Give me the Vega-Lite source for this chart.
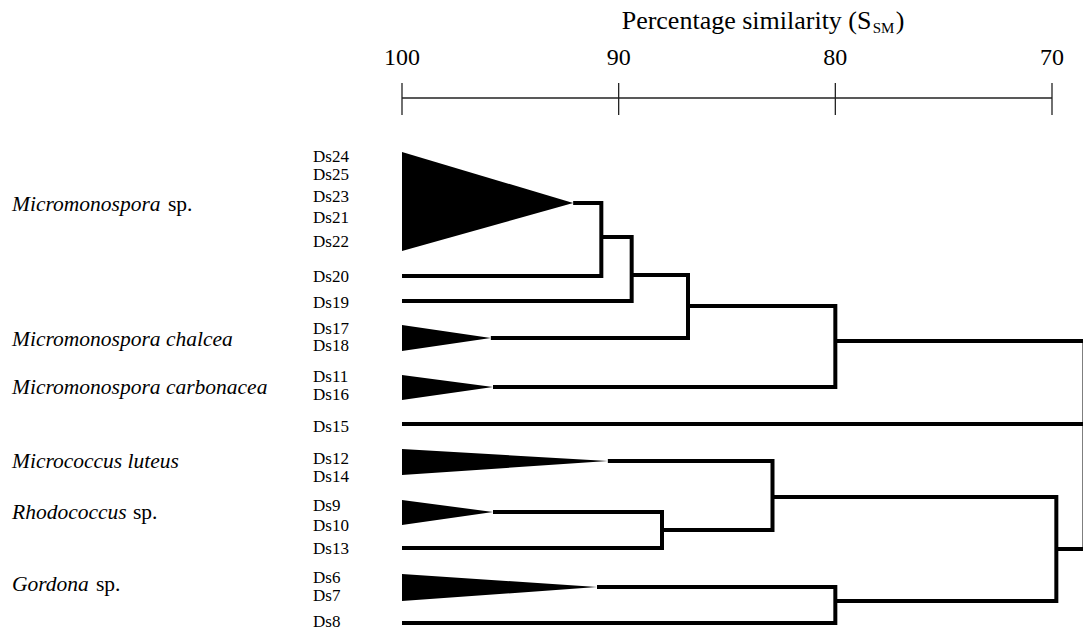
{
  "$schema": "https://vega.github.io/schema/vega-lite/v6.json",
  "padding": 0,
  "background": "white",
  "spacing": 0,
  "bounds": "flush",
  "config": {"view": {"stroke": null}, "font": "Liberation Serif", "concat": {"spacing": 0}},
  "datasets": {
    "edges": [
      {"path": "n1", "step": 1, "sim": 92.1, "pos": 4.2}, {"path": "n1", "step": 2, "sim": 90.8, "pos": 4.2}, {"path": "n1", "step": 3, "sim": 90.8, "pos": 7.12}, {"path": "n1", "step": 4, "sim": 100, "pos": 7.12},
      {"path": "n2", "step": 1, "sim": 90.8, "pos": 5.56}, {"path": "n2", "step": 2, "sim": 89.4, "pos": 5.56}, {"path": "n2", "step": 3, "sim": 89.4, "pos": 8.12}, {"path": "n2", "step": 4, "sim": 100, "pos": 8.12},
      {"path": "n3", "step": 1, "sim": 89.4, "pos": 7.08}, {"path": "n3", "step": 2, "sim": 86.8, "pos": 7.08}, {"path": "n3", "step": 3, "sim": 86.8, "pos": 9.6}, {"path": "n3", "step": 4, "sim": 95.9, "pos": 9.6},
      {"path": "n4", "step": 1, "sim": 86.8, "pos": 8.32}, {"path": "n4", "step": 2, "sim": 80, "pos": 8.32}, {"path": "n4", "step": 3, "sim": 80, "pos": 11.56}, {"path": "n4", "step": 4, "sim": 95.8, "pos": 11.56},
      {"path": "root", "step": 1, "sim": 80, "pos": 9.72}, {"path": "root", "step": 2, "sim": 68.5, "pos": 9.72}, {"path": "root", "step": 3, "sim": 68.5, "pos": 18.04}, {"path": "root", "step": 4, "sim": 69.8, "pos": 18.04},
      {"path": "ds15", "step": 1, "sim": 100, "pos": 13.04}, {"path": "ds15", "step": 2, "sim": 68.5, "pos": 13.04},
      {"path": "n5", "step": 1, "sim": 95.8, "pos": 16.56}, {"path": "n5", "step": 2, "sim": 88, "pos": 16.56}, {"path": "n5", "step": 3, "sim": 88, "pos": 18.0}, {"path": "n5", "step": 4, "sim": 100, "pos": 18.0},
      {"path": "n6", "step": 1, "sim": 90.5, "pos": 14.52}, {"path": "n6", "step": 2, "sim": 82.9, "pos": 14.52}, {"path": "n6", "step": 3, "sim": 82.9, "pos": 17.28}, {"path": "n6", "step": 4, "sim": 88, "pos": 17.28},
      {"path": "n7", "step": 1, "sim": 91, "pos": 19.56}, {"path": "n7", "step": 2, "sim": 80, "pos": 19.56}, {"path": "n7", "step": 3, "sim": 80, "pos": 21.0}, {"path": "n7", "step": 4, "sim": 100, "pos": 21.0},
      {"path": "n8", "step": 1, "sim": 82.9, "pos": 15.96}, {"path": "n8", "step": 2, "sim": 69.8, "pos": 15.96}, {"path": "n8", "step": 3, "sim": 69.8, "pos": 20.12}, {"path": "n8", "step": 4, "sim": 80, "pos": 20.12}
    ],
    "triangles": [
      {"cluster": "Ds21-25", "sim": 100, "top": 2.16, "bottom": 6.12}, {"cluster": "Ds21-25", "sim": 92.1, "top": 4.2, "bottom": 4.2},
      {"cluster": "Ds17-18", "sim": 100, "top": 9.08, "bottom": 10.12}, {"cluster": "Ds17-18", "sim": 95.9, "top": 9.6, "bottom": 9.6},
      {"cluster": "Ds11-16", "sim": 100, "top": 11.08, "bottom": 12.08}, {"cluster": "Ds11-16", "sim": 95.8, "top": 11.56, "bottom": 11.56},
      {"cluster": "Ds12-14", "sim": 100, "top": 14.04, "bottom": 15.08}, {"cluster": "Ds12-14", "sim": 90.5, "top": 14.52, "bottom": 14.52},
      {"cluster": "Ds9-10", "sim": 100, "top": 16.08, "bottom": 17.08}, {"cluster": "Ds9-10", "sim": 95.8, "top": 16.56, "bottom": 16.56},
      {"cluster": "Ds6-7", "sim": 100, "top": 19.04, "bottom": 20.12}, {"cluster": "Ds6-7", "sim": 91, "top": 19.56, "bottom": 19.56}
    ],
    "ticks": [{"value": 100}, {"value": 90}, {"value": 80}, {"value": 70}],
    "strains": [
      {"label": "Ds24", "pos": 2.36}, {"label": "Ds25", "pos": 3.06}, {"label": "Ds23", "pos": 3.96}, {"label": "Ds21", "pos": 4.8}, {"label": "Ds22", "pos": 5.76},
      {"label": "Ds20", "pos": 7.16}, {"label": "Ds19", "pos": 8.2}, {"label": "Ds17", "pos": 9.22}, {"label": "Ds18", "pos": 9.92},
      {"label": "Ds11", "pos": 11.16}, {"label": "Ds16", "pos": 11.86}, {"label": "Ds15", "pos": 13.16}, {"label": "Ds12", "pos": 14.44},
      {"label": "Ds14", "pos": 15.16}, {"label": "Ds9", "pos": 16.32}, {"label": "Ds10", "pos": 17.12}, {"label": "Ds13", "pos": 18.04},
      {"label": "Ds6", "pos": 19.2}, {"label": "Ds7", "pos": 19.9}, {"label": "Ds8", "pos": 20.96}
    ],
    "taxa": [
      {"taxon": "Micromonospora", "suffix": "sp.", "pos": 4.28},
      {"taxon": "Micromonospora chalcea", "suffix": "", "pos": 9.68},
      {"taxon": "Micromonospora carbonacea", "suffix": "", "pos": 11.6},
      {"taxon": "Micrococcus luteus", "suffix": "", "pos": 14.56},
      {"taxon": "Rhodococcus", "suffix": "sp.", "pos": 16.6},
      {"taxon": "Gordona", "suffix": "sp.", "pos": 19.48}
    ],
    "title": [{"main": "Percentage similarity (S", "sub": "SM", "close": ")"}]
  },
  "hconcat": [
    {
      "width": 402,
      "height": 633,
      "layer": [
        {
          "data": {"name": "taxa"},
          "mark": {"type": "text", "align": "left", "baseline": "middle", "fontStyle": "italic", "fontSize": 21.5, "font": "Liberation Serif", "color": "black"},
          "encoding": {
            "x": {"datum": "taxon", "type": "nominal", "scale": {"type": "point", "domain": ["taxon", "strain"], "range": [12, 313], "padding": 0}, "axis": null},
            "y": {"field": "pos", "type": "quantitative", "scale": {"domain": [-3.92, 21.4], "reverse": true, "nice": false, "zero": false}, "axis": null},
            "text": {"field": "taxon"}
          }
        },
        {
          "data": {"name": "taxa"},
          "transform": [{"filter": "datum.taxon == 'Micromonospora' && datum.suffix != ''"}],
          "mark": {"type": "text", "align": "left", "baseline": "middle", "fontSize": 21.5, "font": "Liberation Serif", "color": "black", "dx": 156},
          "encoding": {
            "x": {"datum": "taxon", "type": "nominal", "scale": {"type": "point", "domain": ["taxon", "strain"], "range": [12, 313], "padding": 0}, "axis": null},
            "y": {"field": "pos", "type": "quantitative", "scale": {"domain": [-3.92, 21.4], "reverse": true, "nice": false, "zero": false}, "axis": null},
            "text": {"field": "suffix"}
          }
        },
        {
          "data": {"name": "taxa"},
          "transform": [{"filter": "datum.taxon == 'Rhodococcus'"}],
          "mark": {"type": "text", "align": "left", "baseline": "middle", "fontSize": 21.5, "font": "Liberation Serif", "color": "black", "dx": 121},
          "encoding": {
            "x": {"datum": "taxon", "type": "nominal", "scale": {"type": "point", "domain": ["taxon", "strain"], "range": [12, 313], "padding": 0}, "axis": null},
            "y": {"field": "pos", "type": "quantitative", "scale": {"domain": [-3.92, 21.4], "reverse": true, "nice": false, "zero": false}, "axis": null},
            "text": {"field": "suffix"}
          }
        },
        {
          "data": {"name": "taxa"},
          "transform": [{"filter": "datum.taxon == 'Gordona'"}],
          "mark": {"type": "text", "align": "left", "baseline": "middle", "fontSize": 21.5, "font": "Liberation Serif", "color": "black", "dx": 84},
          "encoding": {
            "x": {"datum": "taxon", "type": "nominal", "scale": {"type": "point", "domain": ["taxon", "strain"], "range": [12, 313], "padding": 0}, "axis": null},
            "y": {"field": "pos", "type": "quantitative", "scale": {"domain": [-3.92, 21.4], "reverse": true, "nice": false, "zero": false}, "axis": null},
            "text": {"field": "suffix"}
          }
        },
        {
          "data": {"name": "strains"},
          "mark": {"type": "text", "align": "left", "baseline": "middle", "fontSize": 17, "font": "Liberation Serif", "color": "black"},
          "encoding": {
            "x": {"datum": "strain", "type": "nominal", "scale": {"type": "point", "domain": ["taxon", "strain"], "range": [12, 313], "padding": 0}, "axis": null},
            "y": {"field": "pos", "type": "quantitative", "scale": {"domain": [-3.92, 21.4], "reverse": true, "nice": false, "zero": false}, "axis": null},
            "text": {"field": "label"}
          }
        }
      ]
    },
    {
      "width": 650,
      "height": 633,
      "layer": [
        {
          "data": {"name": "triangles"},
          "mark": {"type": "area", "orient": "vertical", "color": "black", "opacity": 1},
          "encoding": {
            "x": {"field": "sim", "type": "quantitative", "scale": {"domain": [100, 70], "nice": false, "zero": false}, "axis": null},
            "y": {"field": "top", "type": "quantitative", "scale": {"domain": [-3.92, 21.4], "reverse": true, "nice": false, "zero": false}, "axis": null, "stack": null},
            "y2": {"field": "bottom"},
            "detail": {"field": "cluster"}
          }
        },
        {
          "data": {"name": "edges"},
          "mark": {"type": "line", "color": "black", "strokeWidth": 4, "strokeJoin": "miter", "strokeCap": "butt"},
          "encoding": {
            "x": {"field": "sim", "type": "quantitative", "scale": {"domain": [100, 70], "nice": false, "zero": false}, "axis": null},
            "y": {"field": "pos", "type": "quantitative", "scale": {"domain": [-3.92, 21.4], "reverse": true, "nice": false, "zero": false}, "axis": null},
            "detail": {"field": "path"},
            "order": {"field": "step"}
          }
        },
        {
          "data": {"name": "ticks"},
          "mark": {"type": "rule", "color": "#222", "strokeWidth": 1.3},
          "encoding": {
            "x": {"aggregate": "max", "field": "value", "type": "quantitative", "scale": {"domain": [100, 70], "nice": false, "zero": false}, "axis": null},
            "x2": {"aggregate": "min", "field": "value"},
            "y": {"datum": 0, "type": "quantitative", "scale": {"domain": [-3.92, 21.4], "reverse": true, "nice": false, "zero": false}, "axis": null}
          }
        },
        {
          "data": {"name": "ticks"},
          "mark": {"type": "rule", "color": "#222", "strokeWidth": 1.3},
          "encoding": {
            "x": {"field": "value", "type": "quantitative", "scale": {"domain": [100, 70], "nice": false, "zero": false}, "axis": null},
            "y": {"datum": -0.6, "type": "quantitative", "scale": {"domain": [-3.92, 21.4], "reverse": true, "nice": false, "zero": false}, "axis": null},
            "y2": {"datum": 0.68}
          }
        },
        {
          "data": {"name": "ticks"},
          "mark": {"type": "text", "align": "center", "baseline": "alphabetic", "fontSize": 24, "font": "Liberation Serif", "color": "black"},
          "encoding": {
            "x": {"field": "value", "type": "quantitative", "scale": {"domain": [100, 70], "nice": false, "zero": false}, "axis": null},
            "y": {"datum": -1.32, "type": "quantitative", "scale": {"domain": [-3.92, 21.4], "reverse": true, "nice": false, "zero": false}, "axis": null},
            "text": {"field": "value", "type": "quantitative", "format": "d"}
          }
        },
        {
          "data": {"name": "title"},
          "mark": {"type": "text", "align": "left", "baseline": "alphabetic", "fontSize": 26, "font": "Liberation Serif", "color": "black", "dx": 3},
          "encoding": {
            "x": {"datum": 90, "type": "quantitative", "scale": {"domain": [100, 70], "nice": false, "zero": false}, "axis": null},
            "y": {"datum": -2.76, "type": "quantitative", "scale": {"domain": [-3.92, 21.4], "reverse": true, "nice": false, "zero": false}, "axis": null},
            "text": {"field": "main"}
          }
        },
        {
          "data": {"name": "title"},
          "mark": {"type": "text", "align": "left", "baseline": "alphabetic", "fontSize": 15, "font": "Liberation Serif", "color": "black", "dx": 254},
          "encoding": {
            "x": {"datum": 90, "type": "quantitative", "scale": {"domain": [100, 70], "nice": false, "zero": false}, "axis": null},
            "y": {"datum": -2.6, "type": "quantitative", "scale": {"domain": [-3.92, 21.4], "reverse": true, "nice": false, "zero": false}, "axis": null},
            "text": {"field": "sub"}
          }
        },
        {
          "data": {"name": "title"},
          "mark": {"type": "text", "align": "left", "baseline": "alphabetic", "fontSize": 26, "font": "Liberation Serif", "color": "black", "dx": 277},
          "encoding": {
            "x": {"datum": 90, "type": "quantitative", "scale": {"domain": [100, 70], "nice": false, "zero": false}, "axis": null},
            "y": {"datum": -2.76, "type": "quantitative", "scale": {"domain": [-3.92, 21.4], "reverse": true, "nice": false, "zero": false}, "axis": null},
            "text": {"field": "close"}
          }
        }
      ]
    }
  ]
}
